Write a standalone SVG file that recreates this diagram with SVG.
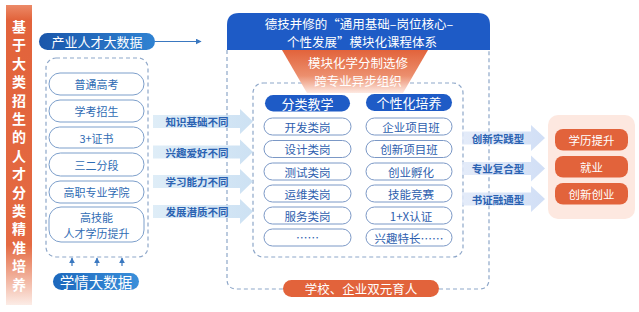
<svg xmlns="http://www.w3.org/2000/svg" width="639" height="312" viewBox="0 0 639 312">
<defs>
<linearGradient id="gBar" x1="0" y1="0" x2="0" y2="1">
<stop offset="0" stop-color="#ec8a68"/>
<stop offset="0.05" stop-color="#e2633b"/>
<stop offset="0.8" stop-color="#e46a42"/>
<stop offset="1" stop-color="#fcece6"/>
</linearGradient>
<linearGradient id="gTrap" x1="0" y1="0" x2="0" y2="1">
<stop offset="0" stop-color="#e2633b"/>
<stop offset="0.6" stop-color="#ec8f6e"/>
<stop offset="1" stop-color="#fde9e2"/>
</linearGradient>
<linearGradient id="gBlue1" x1="0" y1="0" x2="1" y2="0">
<stop offset="0" stop-color="#1a56aa"/>
<stop offset="1" stop-color="#2f82d2"/>
</linearGradient>
<linearGradient id="gBlue2" x1="0" y1="0" x2="1" y2="0">
<stop offset="0" stop-color="#1c68bd"/>
<stop offset="1" stop-color="#3a8fda"/>
</linearGradient>
<linearGradient id="gArrM" x1="0" y1="0" x2="1" y2="0">
<stop offset="0" stop-color="#d9eaf6"/>
<stop offset="1" stop-color="#c4dcf1"/>
</linearGradient>
<linearGradient id="gArrR" x1="0" y1="0" x2="1" y2="0">
<stop offset="0" stop-color="#dfe8f8"/>
<stop offset="1" stop-color="#c9d9f4"/>
</linearGradient>
<marker id="ah" viewBox="0 0 10 10" refX="9" refY="5" markerWidth="6" markerHeight="6" orient="auto" markerUnits="userSpaceOnUse">
<path d="M0,0 L10,5 L0,10 z" fill="#3a78c0"/>
</marker>
</defs>
<style>
text{font-family:"Noto Sans CJK SC","Noto Sans",sans-serif;text-anchor:middle;dominant-baseline:central}
.dash{fill:none;stroke:#8ea7c9;stroke-width:1.2;stroke-dasharray:4 3}
.pillL{fill:#fff;stroke:#7d9fcb;stroke-width:1}
.pillC{fill:#fff;stroke:#7b98c6;stroke-width:1}
.tL{font-size:11px;fill:#2f6cb4}
.tC{font-size:11.5px;fill:#2d5eae}
.tW{fill:#fff}
.tA{font-size:10.5px;font-weight:bold;fill:#2a62b2}
.org{fill:#e2633b}
.hdr{fill:#1e5bc6}
</style>
<rect width="639" height="312" fill="#fff"/>

<g id="side-title">
<rect x="6" y="5" width="26" height="300" fill="url(#gBar)"/>
<g class="tW" font-size="14" font-weight="bold">
<text x="19" y="26" class="tW">基</text>
<text x="19" y="44.4" class="tW">于</text>
<text x="19" y="62.8" class="tW">大</text>
<text x="19" y="81.2" class="tW">类</text>
<text x="19" y="99.6" class="tW">招</text>
<text x="19" y="118" class="tW">生</text>
<text x="19" y="136.4" class="tW">的</text>
<text x="19" y="154.8" class="tW">人</text>
<text x="19" y="173.2" class="tW">才</text>
<text x="19" y="191.6" class="tW">分</text>
<text x="19" y="210" class="tW">类</text>
<text x="19" y="228.4" class="tW">精</text>
<text x="19" y="246.8" class="tW">准</text>
<text x="19" y="265.2" class="tW">培</text>
<text x="19" y="283.6" class="tW">养</text>
</g>
</g>

<g id="industry-data">
<rect x="39" y="33" width="116" height="17" rx="8.5" fill="url(#gBlue1)"/>
<text x="97" y="41.5" class="tW" font-size="13">产业人才大数据</text>
</g>

<g id="enrollment">
<rect class="dash" x="46" y="58" width="102" height="199" rx="10"/>
<g id="e1"><rect class="pillL" x="49" y="73" width="95" height="22" rx="11"/><text class="tL" x="96.5" y="84">普通高考</text></g>
<g id="e2"><rect class="pillL" x="49" y="100" width="95" height="22" rx="11"/><text class="tL" x="96.5" y="111">学考招生</text></g>
<g id="e3"><rect class="pillL" x="49" y="127" width="95" height="21" rx="10.5"/><text class="tL" x="96.5" y="137.5">3+证书</text></g>
<g id="e4"><rect class="pillL" x="49" y="153" width="95" height="23" rx="11.5"/><text class="tL" x="96.5" y="164.5">三二分段</text></g>
<g id="e5"><rect class="pillL" x="49" y="181" width="95" height="22" rx="11"/><text class="tL" x="96.5" y="192">高职专业学院</text></g>
<g id="e6"><rect class="pillL" x="49" y="207" width="95" height="35" rx="12"/><text class="tL" x="96.5" y="217">高技能<tspan x="96.5" dy="15.5">人才学历提升</tspan></text></g>
</g>

<g id="student-data">
<rect x="53" y="273" width="86" height="17" rx="8.5" fill="url(#gBlue2)"/>
<text x="96" y="281.5" class="tW" font-size="14.5">学情大数据</text>
</g>

<g id="curriculum-frame">
<path class="dash" d="M227,50 V279 Q227,289 237,289 H283"/>
<path class="dash" d="M439,289 H479 Q489,289 489,279 V50"/>
<path class="hdr" d="M227,50 V25 Q227,13 239,13 H478 Q490,13 490,25 V50 Z"/>
<text x="359" y="23" class="tW" font-size="12.5">德技并修的“通用基础–岗位核心–<tspan x="362" dy="17.5">个性发展”模块化课程体系</tspan></text>
<rect class="dash" x="253" y="83" width="210" height="174" rx="10"/>
<path d="M282,50 H428 L403,93 H307 Z" fill="url(#gTrap)"/>
<text x="358" y="62" class="tW" font-size="12.5">模块化学分制选修<tspan x="358" dy="18">跨专业异步组织</tspan></text>
</g>

<g id="col-classified">
<rect class="hdr" x="265" y="95" width="85" height="16.5" rx="8.25"/>
<text x="307.5" y="103" class="tW" font-size="13">分类教学</text>
<g><rect class="pillC" x="264" y="118" width="87" height="17" rx="8.5"/><text class="tC" x="307.5" y="126.5">开发类岗</text></g>
<g><rect class="pillC" x="264" y="140.5" width="87" height="17" rx="8.5"/><text class="tC" x="307.5" y="149">设计类岗</text></g>
<g><rect class="pillC" x="264" y="163" width="87" height="17" rx="8.5"/><text class="tC" x="307.5" y="171.5">测试类岗</text></g>
<g><rect class="pillC" x="264" y="185" width="87" height="17" rx="8.5"/><text class="tC" x="307.5" y="193.5">运维类岗</text></g>
<g><rect class="pillC" x="264" y="207" width="87" height="17" rx="8.5"/><text class="tC" x="307.5" y="215.5">服务类岗</text></g>
<g><rect class="pillC" x="264" y="229" width="87" height="17" rx="8.5"/><text class="tC" x="307.5" y="236.5">……</text></g>
</g>

<g id="col-personal">
<rect class="hdr" x="366" y="94" width="86" height="17" rx="8.5"/>
<text x="409" y="102.5" class="tW" font-size="13">个性化培养</text>
<g><rect class="pillC" x="366" y="118" width="86" height="17" rx="8.5"/><text class="tC" x="411" y="126.5">企业项目班</text></g>
<g><rect class="pillC" x="366" y="140.5" width="86" height="17" rx="8.5"/><text class="tC" x="409" y="149">创新项目班</text></g>
<g><rect class="pillC" x="366" y="163" width="86" height="17" rx="8.5"/><text class="tC" x="411" y="171.5">创业孵化</text></g>
<g><rect class="pillC" x="366" y="185" width="86" height="17" rx="8.5"/><text class="tC" x="411" y="193.5">技能竞赛</text></g>
<g><rect class="pillC" x="366" y="207" width="86" height="17" rx="8.5"/><text class="tC" x="411" y="215.5">1+X认证</text></g>
<g><rect class="pillC" x="366" y="229" width="86" height="17" rx="8.5"/><text class="tC" x="409" y="237.5">兴趣特长……</text></g>
</g>

<g id="dual-education">
<rect class="org" x="283" y="280" width="156" height="17" rx="8.5"/>
<text x="361" y="288.5" class="tW" font-size="12.5">学校、企业双元育人</text>
</g>

<g id="outcomes">
<rect x="548" y="115" width="87" height="104" rx="10" fill="#fde8e0"/>
<g><rect class="org" x="555" y="129" width="73" height="21.5" rx="8"/><text x="591.5" y="140" class="tW" font-size="11.5">学历提升</text></g>
<g><rect class="org" x="555" y="156" width="73" height="21.5" rx="8"/><text x="591.5" y="167" class="tW" font-size="11.5">就业</text></g>
<g><rect class="org" x="555" y="183" width="73" height="21.5" rx="8"/><text x="591.5" y="194" class="tW" font-size="11.5">创新创业</text></g>
</g>

<g id="connectors">
<line x1="155" y1="41.5" x2="201" y2="41.5" stroke="#3a78c0" stroke-width="1.2" marker-end="url(#ah)"/>
<line x1="72" y1="266" x2="72" y2="258" stroke="#3a78c0" stroke-width="1.2" marker-end="url(#ah)"/>
<line x1="97" y1="266" x2="97" y2="258" stroke="#3a78c0" stroke-width="1.2" marker-end="url(#ah)"/>
<line x1="122" y1="266" x2="122" y2="258" stroke="#3a78c0" stroke-width="1.2" marker-end="url(#ah)"/>
<g fill="url(#gArrM)" fill-opacity="0.85">
<path d="M153,115 H240 V109 L253,121.5 L240,134 V128 H153 Z"/>
<path d="M153,145.5 H240 V139.5 L253,152 L240,164.5 V158.5 H153 Z"/>
<path d="M153,175 H240 V169 L253,181.5 L240,194 V188 H153 Z"/>
<path d="M153,205 H240 V199 L253,211.5 L240,224 V218 H153 Z"/>
</g>
<text class="tA" x="197" y="121.5">知识基础不同</text>
<text class="tA" x="197" y="152">兴趣爱好不同</text>
<text class="tA" x="197" y="181.5">学习能力不同</text>
<text class="tA" x="197" y="211.5">发展潜质不同</text>
<g fill="url(#gArrR)" fill-opacity="0.85">
<path d="M462,131.5 H531 V125 L545,138 L531,151 V144.5 H462 Z"/>
<path d="M462,162 H531 V155.5 L545,168.5 L531,181.5 V175 H462 Z"/>
<path d="M462,192.5 H531 V186 L545,199 L531,212 V205.5 H462 Z"/>
</g>
<text class="tA" x="498" y="138">创新实践型</text>
<text class="tA" x="498" y="168.5">专业复合型</text>
<text class="tA" x="498" y="199">书证融通型</text>
</g>
</svg>
